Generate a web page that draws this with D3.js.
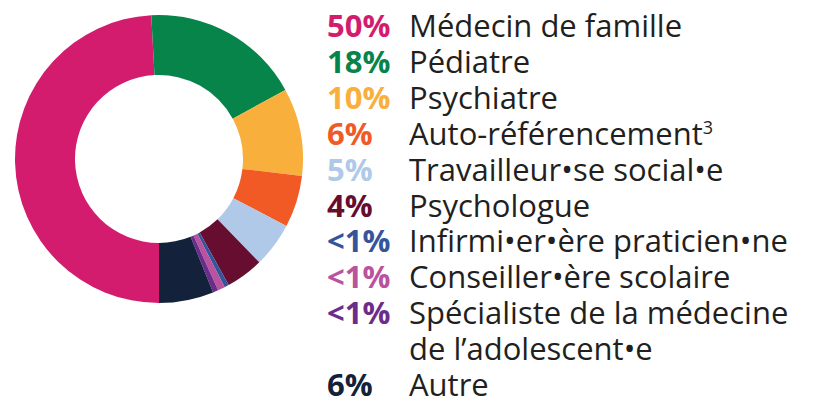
<!DOCTYPE html>
<html>
<head>
<meta charset="utf-8">
<script src="https://cdn.jsdelivr.net/npm/d3@7"></script>
<style>
  body { margin: 0; background: #fff; }
  svg { display: block; }
</style>
</head>
<body>
<div id="chart"></div>
<script>
// categories, in the order they are drawn (clockwise from the bottom)
const labels = [
    "Médecin de famille",
    "Pédiatre",
    "Psychiatre",
    "Auto-référencement",
    "Travailleur•se social•e",
    "Psychologue",
    "Infirmi•er•ère praticien•ne",
    "Conseiller•ère scolaire",
    "Spécialiste de la médecine\nde l’adolescent•e",
    "Autre",
]
const notes = ["", "", "", "3", "", "", "", "", "", ""];
const pctLabels = ["50%", "18%", "10%", "6%", "5%", "4%", "<1%", "<1%", "<1%", "6%"];
// slice sizes read from the ring (percent)
const values = [48.9, 17.8, 9.8, 5.8, 5.0, 4.2, 0.5, 0.8, 0.6, 6.1];
const colors = [
    "#d41c6f", "#07844a", "#f9af3b", "#f15a25", "#b0c9e8",
    "#660d30", "#35559b", "#b9529f", "#6b2d8c", "#13223a",
]

donutVis = () => {
    const width = 814;
    const height = 400;
    const cx = 159, cy = 159;
    const outer = 144, inner = 84;

    const data = labels.map((d, i) => ({
        label: d, note: notes[i], pct: pctLabels[i], value: values[i], color: colors[i]
    }));

    const svg = d3.select("#chart")
        .append("svg")
        .attr("width", width)
        .attr("height", height)
        .attr("viewBox", [0, 0, width, height]);

    const pie = d3.pie()
        .sort(null)
        .value(d => d.value)
        .startAngle(Math.PI)
        .endAngle(3 * Math.PI);
    const arc = d3.arc().innerRadius(inner).outerRadius(outer);

    svg.append("g")
        .attr("transform", `translate(${cx},${cy})`)
        .selectAll("path")
        .data(pie(data))
        .join("path")
        .attr("d", arc)
        .attr("fill", d => d.data.color);

    // legend: one line per row, long labels wrap onto the next line
    let line = 0;
    data.forEach(d => {
        d.line = line;
        line += d.label.split("\n").length;
    });
    const y = d3.scaleLinear().domain([0, 10]).range([37, 396]);

    const legend = svg.append("g")
        .style("font-family", "'Open Sans', sans-serif")
        .style("font-size", "31px");

    const row = legend.selectAll("g")
        .data(data)
        .join("g")
        .attr("transform", d => `translate(0,${y(d.line)})`);

    row.append("text")
        .attr("x", 327)
        .attr("fill", d => d.color)
        .style("font-weight", "700")
        .text(d => d.pct);

    const txt = row.append("text")
        .attr("x", 409)
        .attr("fill", "#231f20");
    txt.each(function (d) {
        const t = d3.select(this);
        d.label.split("\n").forEach((s, i) => {
            t.append("tspan")
                .attr("x", 409)
                .attr("y", i * (y(1) - y(0)))
                .text(s);
        });
        if (d.note) {
            t.append("tspan")
                .attr("dy", -11)
                .style("font-size", "18px")
                .text(d.note);
        }
    });
}

donutVis();
</script>
</body>
</html>
